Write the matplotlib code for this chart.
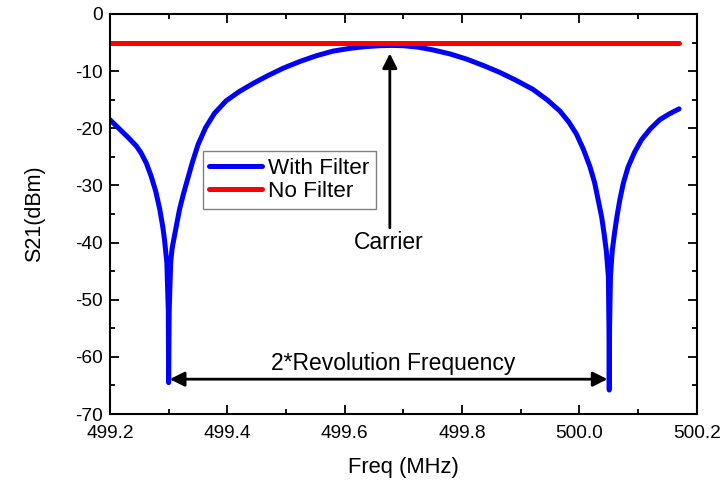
import matplotlib
matplotlib.use("Agg")
import matplotlib.pyplot as plt
from matplotlib.ticker import MultipleLocator

plt.rcParams["font.family"] = ["Liberation Sans", "DejaVu Sans"]
plt.rcParams["axes.unicode_minus"] = False

# values
freq_filter = [
    499.200, 499.215, 499.231, 499.245, 499.253, 499.262, 499.270, 499.278,
    499.285, 499.290, 499.293, 499.297, 499.2995, 499.300, 499.301, 499.3035,
    499.306, 499.310, 499.3186, 499.325, 499.3329, 499.341, 499.350, 499.363,
    499.378, 499.398, 499.420, 499.445, 499.467, 499.495, 499.524, 499.552,
    499.580, 499.610, 499.637, 499.660, 499.680, 499.700, 499.725, 499.751,
    499.780, 499.808, 499.836, 499.864, 499.892, 499.921, 499.945, 499.967,
    499.982, 499.995, 500.007, 500.018, 500.026, 500.032, 500.038, 500.042,
    500.046, 500.0495, 500.0505, 500.051, 500.0515, 500.053, 500.056, 500.060,
    500.064, 500.069, 500.075, 500.083, 500.094, 500.106, 500.121, 500.137,
    500.153, 500.170,
]
s21_filter = [
    -18.5, -20.0, -21.6, -23.1, -24.3, -26.1, -28.3, -31.0,
    -34.2, -37.2, -39.5, -43.5, -52.0, -64.5, -52.0, -43.5,
    -41.0, -38.8, -34.2, -31.6, -28.7, -25.8, -22.9, -19.9,
    -17.4, -15.2, -13.6, -12.1, -10.9, -9.5, -8.3, -7.3,
    -6.5, -6.0, -5.7, -5.55, -5.5, -5.55, -5.8, -6.3,
    -7.0, -7.9, -9.0, -10.2, -11.6, -13.2, -15.0, -17.0,
    -18.9, -21.0, -23.7, -26.7, -29.5, -32.5, -35.5, -38.3,
    -41.5, -46.0, -55.0, -65.8, -55.0, -46.0, -41.5, -38.3,
    -35.5, -32.5, -29.6, -26.8, -24.2, -22.0, -20.1, -18.5,
    -17.5, -16.6,
]
freq_nofilter = [499.200, 500.170]
s21_nofilter = [-5.0, -5.0]

fig = plt.figure(figsize=(7.28, 4.82), dpi=100)
ax = fig.add_axes([0.151, 0.141, 0.806, 0.830])

ax.plot(freq_filter, s21_filter, color="#0000ff", lw=3.6,
        solid_capstyle="round", solid_joinstyle="round", label="With Filter")
ax.plot(freq_nofilter, s21_nofilter, color="#ff0000", lw=3.6,
        solid_capstyle="round", label="No Filter")

ax.set_xlim(499.2, 500.2)
ax.set_ylim(-70, 0)
ax.xaxis.set_major_locator(MultipleLocator(0.2))
ax.xaxis.set_minor_locator(MultipleLocator(0.1))
ax.yaxis.set_major_locator(MultipleLocator(10))
ax.yaxis.set_minor_locator(MultipleLocator(5))
ax.xaxis.set_major_formatter(plt.FuncFormatter(lambda v, p: "%.1f" % v))
ax.tick_params(which="both", direction="in", top=True, right=True,
               width=1.3, labelsize=13.8)
ax.tick_params(axis="x", pad=8)
ax.tick_params(axis="y", pad=5)
ax.tick_params(which="major", length=6.5)
ax.tick_params(which="minor", length=3.5)
for sp in ax.spines.values():
    sp.set_linewidth(1.5)

ax.set_xlabel("Freq (MHz)", fontsize=15.8, labelpad=11)
ax.set_ylabel("S21(dBm)", fontsize=15.5, labelpad=22)

leg = ax.legend(loc="upper left", bbox_to_anchor=(0.158, 0.6575),
                borderaxespad=0, fontsize=16.2, fancybox=False,
                handlelength=2.35, handletextpad=0.25, borderpad=0.3,
                labelspacing=0.1, framealpha=1)
leg.get_frame().set_edgecolor("#808080")
leg.get_frame().set_linewidth(1.0)

# carrier arrow
ax.annotate("", xy=(499.677, -6.9), xytext=(499.677, -37.4),
            arrowprops=dict(arrowstyle="-|>", color="black", lw=2,
                            mutation_scale=22, shrinkA=0, shrinkB=0))
ax.text(499.675, -38.0, "Carrier", ha="center", va="top", fontsize=16.5)

# two-headed arrow between notches
ax.annotate("", xy=(499.302, -63.9), xytext=(500.048, -63.9),
            arrowprops=dict(arrowstyle="<|-|>", color="black", lw=2,
                            mutation_scale=22, shrinkA=0, shrinkB=0))
ax.text(499.683, -61.2, "2*Revolution Frequency", ha="center", va="center",
        fontsize=16.5)

fig.savefig("out.png", dpi=100)
